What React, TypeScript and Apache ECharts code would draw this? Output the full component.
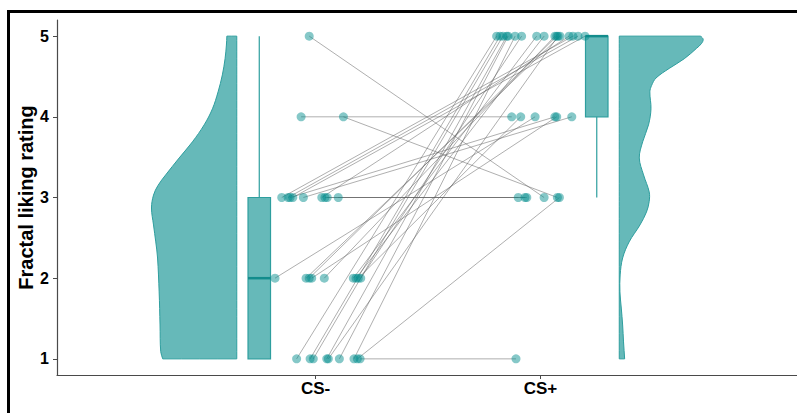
import React, { useEffect, useRef } from "react";
import * as echarts from "echarts";

// ---- data ----
const categories = ["CS-", "CS+"];
const yTickValues = [1, 2, 3, 4, 5];

// paired ratings per participant (CS- then CS+) and horizontal jitter (x-axis units)
const csMinusRating = [5, 4, 4, 3, 3, 3, 3, 3, 3, 3, 3, 3, 2, 2, 2, 2, 2, 2, 2, 2, 2, 1, 1, 1, 1, 1, 1, 1, 1, 1];
const csMinusJitter = [-0.028, -0.064, 0.124, 0.101, 0.052, 0.042, -0.15, -0.122, -0.113, -0.101, -0.054, 0.028, -0.18, -0.042, -0.028, -0.017, 0.039, 0.168, 0.18, 0.19, 0.201, -0.084, -0.024, -0.01, 0.05, 0.057, 0.106, 0.171, 0.186, 0.198];
const csPlusRating = [3, 4, 3, 3, 3, 3, 5, 5, 4, 5, 4, 5, 4, 5, 5, 4, 5, 5, 5, 4, 5, 5, 5, 5, 5, 5, 5, 5, 3, 1];
const csPlusJitter = [0.016, -0.128, 0.075, -0.099, -0.069, -0.061, 0.144, 0.167, 0.064, 0.198, 0.139, 0.127, -0.024, 0.087, 0.072, 0.072, 0.064, -0.017, 0.016, -0.088, -0.084, -0.195, -0.18, -0.167, -0.15, 0.078, -0.144, -0.113, 0.084, -0.109];

// box statistics: [min, q1, median, q3, max]
const boxStats = [
  [1, 1, 2, 3, 5],
  [3, 4, 5, 5, 5],
];

// half-violin outlines: rating values and density widths (x-axis units)
const violinMinusValues = [5.0, 4.89, 4.72, 4.52, 4.31, 4.1, 3.9, 3.69, 3.49, 3.28, 3.15, 3.03, 2.87, 2.66, 2.45, 2.25, 1.83, 1.42, 1.09, 1.0];
const violinMinusWidths = [0.044, 0.046, 0.052, 0.064, 0.083, 0.108, 0.145, 0.197, 0.256, 0.316, 0.35, 0.37, 0.379, 0.37, 0.36, 0.352, 0.345, 0.341, 0.338, 0.329];
const violinPlusValues = [5.0, 4.96, 4.91, 4.85, 4.72, 4.6, 4.48, 4.39, 4.31, 4.1, 3.9, 3.69, 3.49, 3.28, 3.07, 2.95, 2.82, 2.66, 2.45, 2.25, 2.04, 1.83, 1.63, 1.42, 1.21, 1.0];
const violinPlusWidths = [0.362, 0.373, 0.366, 0.344, 0.289, 0.222, 0.163, 0.144, 0.136, 0.141, 0.13, 0.104, 0.089, 0.108, 0.133, 0.133, 0.121, 0.092, 0.044, 0.015, 0.004, 0.003, 0.009, 0.015, 0.019, 0.024];

// ---- layout / style constants ----
const VIOLIN_OFFSET = 0.35;
const BOX_OFFSET = 0.25;
const BOX_HALF = 0.05;
const FILL = "#66b9b9";
const EDGE = "#2e9e9e";
const FONT = "'Liberation Sans', Arial, sans-serif";

export default function App() {
  const ref = useRef<HTMLDivElement>(null);

  useEffect(() => {
    document.body.style.margin = "0";
    if (!ref.current) return;
    const chart = echarts.init(ref.current, undefined, { renderer: "svg" });

    const violins = [
      { values: violinMinusValues, widths: violinMinusWidths, dir: -1 },
      { values: violinPlusValues, widths: violinPlusWidths, dir: 1 },
    ];

    const pointsData: number[][] = [];
    csMinusRating.forEach((r, i) => pointsData.push([1 + csMinusJitter[i], r]));
    csPlusRating.forEach((r, i) => pointsData.push([2 + csPlusJitter[i], r]));

    const pairData = csMinusRating.map((r, i) => [1 + csMinusJitter[i], r, 2 + csPlusJitter[i], csPlusRating[i]]);

    const option: any = {
      animation: false,
      grid: { left: 57, right: 0, top: 20, bottom: 38, containLabel: false, outerBoundsMode: "none" },
      xAxis: {
        type: "value",
        min: -0.149,
        max: 3.14,
        splitLine: { show: false },
        axisLine: { show: true, onZero: false, lineStyle: { color: "#4a4a4a", width: 1.2 } },
        axisTick: { show: true, customValues: [1, 2], length: 4, lineStyle: { color: "#4a4a4a" } },
        axisLabel: {
          show: true,
          customValues: [1, 2],
          formatter: (v: number) => categories[Math.round(v) - 1] ?? "",
          color: "#000",
          fontWeight: "bold",
          fontSize: 17,
          fontFamily: FONT,
          margin: 5,
        },
      },
      yAxis: {
        type: "value",
        min: 0.8,
        max: 5.2,
        splitLine: { show: false },
        axisLine: { show: true, onZero: false, lineStyle: { color: "#4a4a4a", width: 1.2 } },
        axisTick: { show: true, customValues: yTickValues, length: 4, lineStyle: { color: "#4a4a4a" } },
        axisLabel: {
          show: true,
          customValues: yTickValues,
          color: "#000",
          fontWeight: "bold",
          fontSize: 16,
          fontFamily: FONT,
          margin: 8,
        },
        name: "Fractal liking rating",
        nameLocation: "middle",
        nameGap: 21,
        nameMoveOverlap: false,
        nameTextStyle: { color: "#000", fontWeight: "bold", fontSize: 20, fontFamily: FONT },
      },
      graphic: [
        {
          type: "rect",
          shape: { x: 8.5, y: 11.5, width: 800, height: 420 },
          style: { fill: "none", stroke: "#000", lineWidth: 3 },
          silent: true,
          z: 100,
        },
      ],
      series: [
        {
          type: "custom",
          name: "violin",
          coordinateSystem: "cartesian2d",
          data: [
            [1, 3],
            [2, 3],
          ],
          renderItem: (params: any, api: any) => {
            const v = violins[params.dataIndex];
            const base = api.value(0) + v.dir * VIOLIN_OFFSET;
            const outer: number[][] = v.values.map((y: number, i: number) => api.coord([base + v.dir * v.widths[i], y]));
            const inner: number[][] = v.values.map((y: number) => api.coord([base, y])).reverse();
            // duplicate corner points so the smoothing keeps the corners sharp
            const pts = [outer[0], ...outer, outer[outer.length - 1], inner[0], ...inner, inner[inner.length - 1]];
            return {
              type: "polygon",
              shape: { points: pts, smooth: 0.35 },
              style: { fill: FILL, stroke: EDGE, lineWidth: 1 },
            };
          },
          z: 1,
        },
        {
          type: "custom",
          name: "box",
          coordinateSystem: "cartesian2d",
          data: boxStats.map((s, i) => [i + 1, ...s]),
          renderItem: (params: any, api: any) => {
            const dir = params.dataIndex === 0 ? -1 : 1;
            const c = api.value(0) + dir * BOX_OFFSET;
            const mn = api.value(1), q1 = api.value(2), md = api.value(3), q3 = api.value(4), mx = api.value(5);
            const tl = api.coord([c - BOX_HALF, q3]);
            const br = api.coord([c + BOX_HALF, q1]);
            const cTop = api.coord([c, mx]);
            const cQ3 = api.coord([c, q3]);
            const cQ1 = api.coord([c, q1]);
            const cBot = api.coord([c, mn]);
            const mL = api.coord([c - BOX_HALF, md]);
            const mR = api.coord([c + BOX_HALF, md]);
            return {
              type: "group",
              children: [
                { type: "line", shape: { x1: cTop[0], y1: cTop[1], x2: cQ3[0], y2: cQ3[1] }, style: { stroke: EDGE, lineWidth: 1.2 } },
                { type: "line", shape: { x1: cQ1[0], y1: cQ1[1], x2: cBot[0], y2: cBot[1] }, style: { stroke: EDGE, lineWidth: 1.2 } },
                {
                  type: "rect",
                  shape: { x: tl[0], y: tl[1], width: br[0] - tl[0], height: br[1] - tl[1] },
                  style: { fill: FILL, stroke: EDGE, lineWidth: 1.2 },
                },
                { type: "line", shape: { x1: mL[0], y1: mL[1], x2: mR[0], y2: mR[1] }, style: { stroke: "#138c8c", lineWidth: 2.5 } },
              ],
            };
          },
          encode: { x: 0, y: [1, 2, 3, 4, 5] },
          z: 2,
        },
        {
          type: "custom",
          name: "pairs",
          coordinateSystem: "cartesian2d",
          data: pairData,
          encode: { x: [0, 2], y: [1, 3] },
          renderItem: (params: any, api: any) => {
            const a = api.coord([api.value(0), api.value(1)]);
            const b = api.coord([api.value(2), api.value(3)]);
            return {
              type: "line",
              shape: { x1: a[0], y1: a[1], x2: b[0], y2: b[1] },
              style: { stroke: "rgba(95,95,95,0.5)", lineWidth: 1 },
            };
          },
          z: 3,
        },
        {
          type: "scatter",
          name: "points",
          data: pointsData,
          symbol: "circle",
          symbolSize: 9,
          itemStyle: { color: "rgba(0,139,139,0.6)" },
          z: 4,
        },
      ],
    };

    chart.setOption(option);
    return () => chart.dispose();
  }, []);

  return <div ref={ref} style={{ width: 797, height: 413, background: "#fff" }} />;
}
